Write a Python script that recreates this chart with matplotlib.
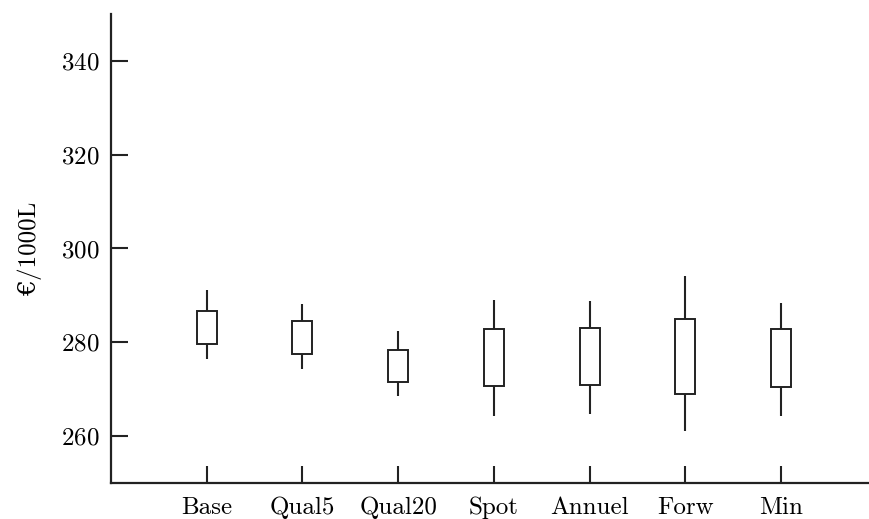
import matplotlib
matplotlib.use("Agg")
import matplotlib.pyplot as plt
import numpy as np

plt.rcParams["font.family"] = ["cmr10", "DejaVu Serif"]
plt.rcParams["axes.formatter.use_mathtext"] = True

# price distribution per scenario (EUR / 1000 L)
scenarios = ["Base", "Qual5", "Qual20", "Spot", "Annuel", "Forw", "Min"]
whisk_low = [276.4, 274.2, 268.5, 264.3, 264.8, 261.1, 264.2]
box_low = [279.7, 277.6, 271.5, 270.7, 270.9, 269.0, 270.4]
box_high = [286.6, 284.5, 278.3, 282.9, 283.1, 285.0, 282.8]
whisk_high = [291.1, 288.2, 282.4, 289.1, 288.7, 294.1, 288.4]

x = np.arange(1, len(scenarios) + 1)
ink = "#222222"

fig = plt.figure(figsize=(8.7, 5.19), dpi=100)
ax = fig.add_axes([0.1276, 0.0694, 0.8724, 0.9036])

lo = np.array(box_low)
hi = np.array(box_high)
ax.vlines(x, whisk_low, box_low, color=ink, lw=1.5)
ax.vlines(x, box_high, whisk_high, color=ink, lw=1.5)
ax.bar(x, hi - lo, bottom=lo, width=0.21, fill=False,
       edgecolor=ink, linewidth=1.4)

ax.set_xlim(0, 7.93)
ax.set_ylim(250, 350)
ax.set_yticks([260, 280, 300, 320, 340])
ax.set_xticks(x)
ax.set_xticklabels(scenarios)
ax.tick_params(direction="in", length=12, width=1.5, colors=ink,
               labelsize=18, labelcolor="black")
ax.tick_params(axis="x", pad=10)
ax.tick_params(axis="y", pad=8)

for side in ("top", "right"):
    ax.spines[side].set_visible(False)
for side in ("left", "bottom"):
    ax.spines[side].set_linewidth(1.6)
    ax.spines[side].set_color(ink)

ax.set_ylabel("€/1000L", fontsize=18, labelpad=14)

fig.savefig("out.png", dpi=100)
